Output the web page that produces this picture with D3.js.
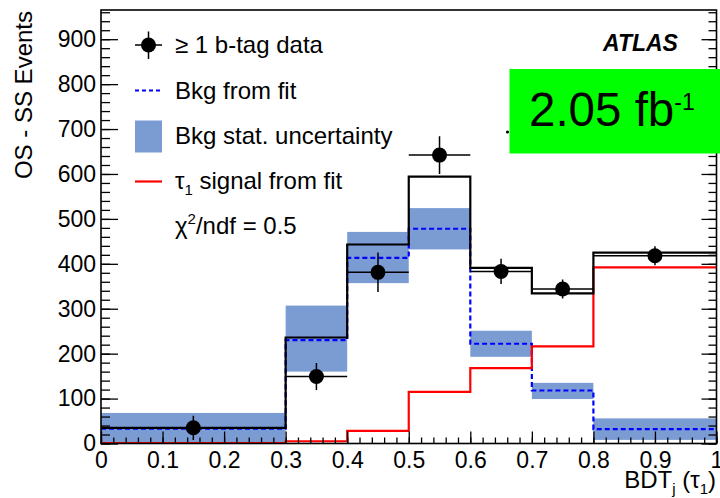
<!DOCTYPE html>
<html><head><meta charset="utf-8">
<script src="https://cdn.jsdelivr.net/npm/d3@7"></script>
<style>
html,body{margin:0;padding:0;background:#fff;}
svg{display:block;font-family:"Liberation Sans",Arial,Helvetica,sans-serif;}
</style></head>
<body>
<svg id="c" width="720" height="498"></svg>
<script>
// ---- data ----
const binEdges = [0, 0.3, 0.4, 0.5, 0.6, 0.7, 0.8, 1.0];
const dataX    = [0.15, 0.35, 0.45, 0.55, 0.65, 0.75, 0.9];
const dataY    = [35, 149, 381, 642, 383, 344, 418];
const dataErr  = [27, 30, 44, 42, 28, 21, 21];
const bkgFit   = [33, 230, 413, 478, 222, 118, 32];
const bkgUp    = [68, 307, 471, 524, 251, 135, 56];
const bkgDown  = [0, 160, 357, 432, 193, 99, 8];
const signal   = [1, 5, 28, 115, 168, 216, 392];
const total    = [35, 236, 443, 594, 391, 334, 425];
const xTicks   = [0, 0.1, 0.2, 0.3, 0.4, 0.5, 0.6, 0.7, 0.8, 0.9, 1];
const xTickLabels = ["0","0.1","0.2","0.3","0.4","0.5","0.6","0.7","0.8","0.9","1"];
const yTicks   = [0, 100, 200, 300, 400, 500, 600, 700, 800, 900];
const yTickLabels = ["0","100","200","300","400","500","600","700","800","900"];

const svg = d3.select("#c");
const X0 = 101, X1 = 716.5, Y0 = 443.5, Y1 = 10;
const x = d3.scaleLinear().domain([0, 1]).range([X0, X1]);
const y = d3.scaleLinear().domain([0, 965]).range([Y0, Y1]);

const plot = svg.append("g");
plot.append("clipPath").attr("id","clip").append("rect")
  .attr("x",X0).attr("y",Y1).attr("width",X1-X0).attr("height",Y0-Y1);
const g = plot.append("g").attr("clip-path","url(#clip)");

const bandColor = "#7b9bd3";
// uncertainty band
g.selectAll("rect.band").data(bkgUp).join("rect")
  .attr("x",(d,i)=>x(binEdges[i]))
  .attr("width",(d,i)=>x(binEdges[i+1])-x(binEdges[i]))
  .attr("y",d=>y(d))
  .attr("height",(d,i)=>y(bkgDown[i])-y(d))
  .attr("fill",bandColor);

function stepPath(vals){
  const pts=[];
  vals.forEach((v,i)=>{pts.push([binEdges[i],v]);pts.push([binEdges[i+1],v]);});
  return d3.line().x(d=>x(d[0])).y(d=>y(d[1]))(pts);
}
g.append("path").attr("d",stepPath(bkgFit)).attr("fill","none")
  .attr("stroke","#0000ff").attr("stroke-width",2.2).attr("stroke-dasharray","5,3");
g.append("path").attr("d",stepPath(signal)).attr("fill","none")
  .attr("stroke","#ff0000").attr("stroke-width",2.2);
g.append("path").attr("d",stepPath(total)).attr("fill","none")
  .attr("stroke","#000").attr("stroke-width",2.2);

// data points
const pts = g.append("g");
dataX.forEach((dx,i)=>{
  pts.append("line").attr("x1",x(binEdges[i])).attr("x2",x(binEdges[i+1]))
    .attr("y1",y(dataY[i])).attr("y2",y(dataY[i])).attr("stroke","#000").attr("stroke-width",1.5);
  pts.append("line").attr("x1",x(dx)).attr("x2",x(dx))
    .attr("y1",y(dataY[i]-dataErr[i])).attr("y2",y(dataY[i]+dataErr[i])).attr("stroke","#000").attr("stroke-width",1.5);
  pts.append("circle").attr("cx",x(dx)).attr("cy",y(dataY[i])).attr("r",7.5).attr("fill","#000");
});

// axes
const fs = "23px";
const ax = svg.append("g").attr("transform",`translate(0,${Y0})`)
  .call(d3.axisBottom(x).tickValues(xTicks).tickSize(-12).tickPadding(8)
    .tickFormat((d,i)=>xTickLabels[i]));
ax.select(".domain").remove();
ax.selectAll("text").attr("font-size",fs).attr("fill","#000").attr("font-family",null);
ax.selectAll("line").attr("stroke","#000").attr("stroke-width",1.3);
const axm = svg.append("g").attr("transform",`translate(0,${Y0})`)
  .call(d3.axisBottom(x).ticks(50).tickSize(-6).tickFormat(""));
axm.select(".domain").remove();
axm.selectAll("line").attr("stroke","#000").attr("stroke-width",1.3);

const ay = svg.append("g").attr("transform",`translate(${X0},0)`)
  .call(d3.axisLeft(y).tickValues(yTicks).tickSize(-17).tickPadding(5)
    .tickFormat((d,i)=>yTickLabels[i]));
ay.select(".domain").remove();
ay.selectAll("text").attr("font-size",fs).attr("fill","#000").attr("font-family",null);
ay.selectAll("line").attr("stroke","#000").attr("stroke-width",1.3);
const aym = svg.append("g").attr("transform",`translate(${X0},0)`)
  .call(d3.axisLeft(y).tickValues(d3.range(0,961,20)).tickSize(-9).tickFormat(""));
aym.select(".domain").remove();
aym.selectAll("line").attr("stroke","#000").attr("stroke-width",1.3);

const ayr = svg.append("g").attr("transform",`translate(${X1},0)`)
  .call(d3.axisRight(y).tickValues(yTicks).tickSize(-15).tickFormat(""));
ayr.select(".domain").remove();
ayr.selectAll("line").attr("stroke","#000").attr("stroke-width",1.3);
const ayrm = svg.append("g").attr("transform",`translate(${X1},0)`)
  .call(d3.axisRight(y).tickValues(d3.range(0,961,20)).tickSize(-8).tickFormat(""));
ayrm.select(".domain").remove();
ayrm.selectAll("line").attr("stroke","#000").attr("stroke-width",1.3);

// frame
svg.append("rect").attr("x",X0).attr("y",Y1).attr("width",X1-X0).attr("height",Y0-Y1)
  .attr("fill","none").attr("stroke","#000").attr("stroke-width",1.6);

// axis titles
svg.append("text").attr("transform","translate(31.5,11) rotate(-90)")
  .attr("text-anchor","end").attr("font-size","24px").text("OS - SS Events");
const xt = svg.append("text").attr("x",716).attr("y",488).attr("text-anchor","end").attr("font-size","24px");
xt.append("tspan").text("BDT");
xt.append("tspan").attr("font-size","15px").attr("dy",6).text("j");
xt.append("tspan").attr("dy",-6).text(" (τ");
xt.append("tspan").attr("font-size","15px").attr("dy",6).text("1");
xt.append("tspan").attr("dy",-6).text(")");

// legend
const lg = svg.append("g");
const lx0 = 135, lx1 = 162, tx = 175;
lg.append("line").attr("x1",lx0).attr("x2",lx1).attr("y1",45).attr("y2",45).attr("stroke","#000").attr("stroke-width",1.5);
lg.append("line").attr("x1",148.5).attr("x2",148.5).attr("y1",31.5).attr("y2",59).attr("stroke","#000").attr("stroke-width",1.5);
lg.append("circle").attr("cx",148.5).attr("cy",45).attr("r",7.5).attr("fill","#000");
lg.append("text").attr("x",tx).attr("y",53).attr("font-size","24px").text("≥ 1 b-tag data");
lg.append("line").attr("x1",lx0).attr("x2",lx1).attr("y1",90.5).attr("y2",90.5)
  .attr("stroke","#0000ff").attr("stroke-width",2.2).attr("stroke-dasharray","4,3");
lg.append("text").attr("x",tx).attr("y",99).attr("font-size","24px").text("Bkg from fit");
lg.append("rect").attr("x",lx0).attr("y",120.5).attr("width",lx1-lx0).attr("height",32).attr("fill",bandColor);
lg.append("text").attr("x",tx).attr("y",144).attr("font-size","24px").text("Bkg stat. uncertainty");
lg.append("line").attr("x1",lx0).attr("x2",lx1).attr("y1",181.5).attr("y2",181.5)
  .attr("stroke","#ff0000").attr("stroke-width",2.2);
const st = lg.append("text").attr("x",tx).attr("y",189).attr("font-size","24px");
st.append("tspan").text("τ");
st.append("tspan").attr("font-size","15px").attr("dy",6).text("1");
st.append("tspan").attr("dy",-6).text(" signal from fit");
const ct = lg.append("text").attr("x",tx).attr("y",234).attr("font-size","24px");
ct.append("tspan").text("χ");
ct.append("tspan").attr("font-size","15px").attr("dy",-10).text("2");
ct.append("tspan").attr("dy",10).text("/ndf = 0.5");

// ATLAS
svg.append("text").attr("x",603).attr("y",51).attr("font-size","23px")
  .attr("font-weight","bold").attr("font-style","italic").text("ATLAS");

// small stray marker left of the box
svg.append("circle").attr("cx",507.5).attr("cy",132).attr("r",1.6).attr("fill","#000");

// green lumi box
svg.append("rect").attr("x",509.5).attr("y",69).attr("width",211).attr("height",84.5).attr("fill","#00ff00");
const lt = svg.append("text").attr("x",529).attr("y",126).attr("font-size","47.5px");
lt.append("tspan").text("2.05 fb");
lt.append("tspan").attr("font-size","23px").attr("dy",-16).text("-1");
</script>
</body></html>
